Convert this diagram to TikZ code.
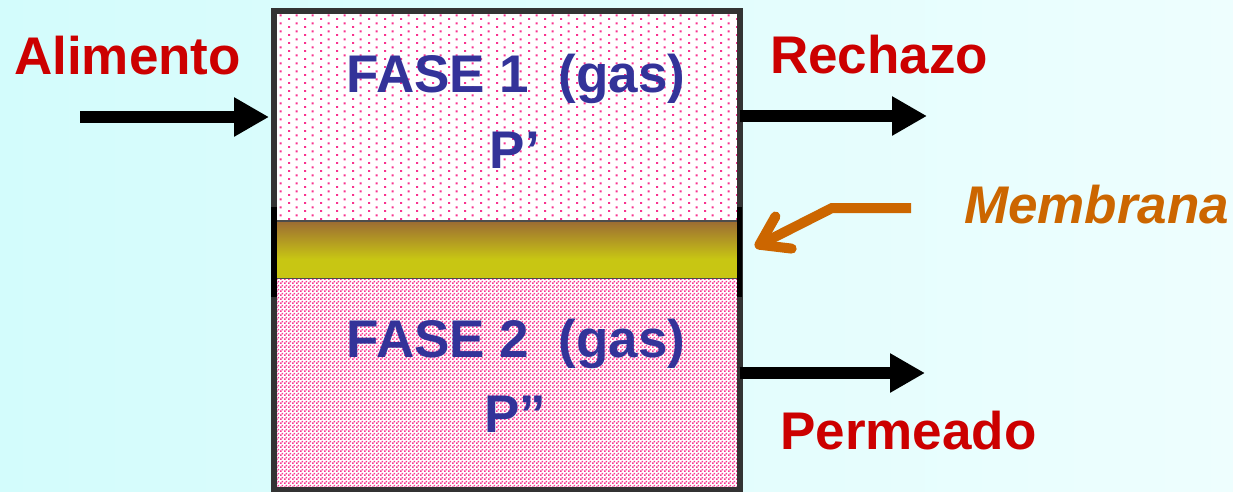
\documentclass[tikz,border=0pt]{standalone}
\usepackage{fontspec}
\setmainfont{Liberation Sans}
\usetikzlibrary{arrows.meta,patterns.meta}

\definecolor{bgL}{HTML}{D3FCFC}
\definecolor{bgR}{HTML}{EEFEFE}
\definecolor{dotpink}{HTML}{F8338F}
\definecolor{frame}{HTML}{333333}
\definecolor{labred}{HTML}{CC0000}
\definecolor{labblue}{HTML}{333399}
\definecolor{laborange}{HTML}{CC6600}
\definecolor{membTop}{HTML}{9C6B33}
\definecolor{membBot}{HTML}{C8C613}

% sparse staggered dots for the upper gas phase
\tikzdeclarepattern{
  name=sparsedots, type=uncolored,
  bottom left={(0pt,0pt)}, top right={(16pt,8pt)}, tile size={(16pt,8pt)},
  code={\fill (0pt,0pt) rectangle (2.2pt,2.2pt);
        \fill (8pt,4pt) rectangle (10.2pt,6.2pt);}}
% dense staggered dots for the lower gas phase
\tikzdeclarepattern{
  name=densedots, type=uncolored,
  bottom left={(0pt,0pt)}, top right={(4pt,4pt)}, tile size={(4pt,4pt)},
  code={\fill (0pt,0pt) rectangle (2pt,2pt);
        \fill (2pt,2pt) rectangle (4pt,4pt);}}

\begin{document}
\begin{tikzpicture}[x=1pt,y=-1pt,
  bigtext/.style={font=\fontsize{53}{60}\selectfont\bfseries, inner sep=0pt},
  streamlabel/.style={bigtext, text=labred, anchor=base west},
  phaselabel/.style={bigtext, text=labblue, anchor=base},
  flow/.style={draw=black, line width=12pt, -{Triangle[length=35pt,width=37pt]}},
  pointer/.style={draw=laborange, line width=10pt, line join=miter,
                  -{Straight Barb[length=27pt,width=36pt,round]}},
  chamber/.style={inner sep=0pt, outer sep=0pt, anchor=north west, fill=white},
  sidebar/.style={fill=black, inner sep=0pt, outer sep=0pt}]

\useasboundingbox (0,0) rectangle (1233,491);
\shade[left color=bgL, right color=bgR] (0,0) rectangle (1233,491);

\begin{scope}
\clip (0,0) rectangle (1233,491);

% upper chamber (phase 1)
\node[chamber, minimum width=460pt, minimum height=207pt] (ch1) at (277,14) {};
\fill[pattern=sparsedots, pattern color=dotpink] (ch1.north west) rectangle (ch1.south east);

% membrane layer: brown on top fading into yellow
\node[chamber, fill=membBot, minimum width=460pt, minimum height=58pt] (memb) at (277,221) {};
\shade[top color=membTop, bottom color=membBot]
  (memb.north west) rectangle ([yshift=20pt]memb.south east);
\draw[black!70, line width=1.2pt] (memb.north west) -- (memb.north east);
\draw[black!70, line width=1.2pt] (memb.south west) -- (memb.south east);

% lower chamber (phase 2)
\node[chamber, minimum width=460pt, minimum height=210pt] (ch2) at (277,279) {};
\fill[pattern=densedots, pattern color=dotpink] (ch2.north west) rectangle (ch2.south east);

% vessel outline
\node[draw=frame, line width=6pt, inner sep=0pt, outer sep=0pt,
      minimum width=465.5pt, minimum height=478.5pt] (vessel) at (506.75,250.25) {};

% heavier clamps where the membrane is held
\node[sidebar, minimum width=6pt, minimum height=90pt] (clampL) at (274,252) {};
\node[sidebar, minimum width=5pt, minimum height=90pt] (clampR) at (739.5,252) {};
\end{scope}

% phase labels
\node[phaselabel] (f1) at (516,92) {FASE 1\ \ (gas)};
\node[phaselabel] (p1) at (515,168) {P’};
\node[phaselabel] (f2) at (516,357) {FASE 2\ \ (gas)};
\node[phaselabel] (p2) at (515,432) {P”};

% stream labels
\node[streamlabel] (feed) at (14,74) {Alimento};
\node[streamlabel] (rej) at (770,73) {Rechazo};
\node[streamlabel] (perm) at (780,449) {Permeado};
\node[bigtext, text=laborange, anchor=base west, font=\fontsize{53}{60}\selectfont\bfseries\itshape]
  (mlabel) at (964,223) {Membrana};

% streams
\coordinate (feedStart) at (80,117);
\draw[flow] (feedStart) -- ([xshift=-5pt]feedStart -| vessel.west);
\coordinate (rejEnd) at (927,116);
\draw[flow] (rejEnd -| vessel.east) -- (rejEnd);
\coordinate (permEnd) at (925,373);
\draw[flow] (permEnd -| vessel.east) -- (permEnd);

% membrane pointer
\coordinate (memTail) at (911,208);
\coordinate (memBend) at (832,208);
\draw[pointer] (memTail) -- (memBend) -- ([shift={(18,-3)}]memb.east);

\end{tikzpicture}
\end{document}
